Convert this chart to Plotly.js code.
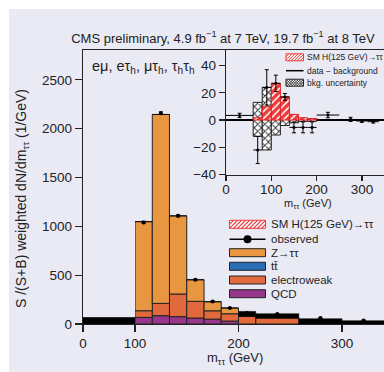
<!DOCTYPE html>
<html><head><meta charset="utf-8">
<script src="https://cdn.plot.ly/plotly-3.0.1.min.js"></script>
<style>html,body{margin:0;padding:0;background:#fff}#chart{width:384px;height:372px}</style>
</head><body><div id="chart"></div>
<script>
// ---------- main plot: S/(S+B) weighted dN/dm (1/GeV) ----------
const lowMassEdges = [0, 100];
const lowMassBand = [64];
const massEdges = [100, 116.7, 133.3, 150, 166.7, 183.3, 200, 216.7, 258.3, 300, 341.7];
const qcd         = [68, 85, 75, 61, 50, 30, 0, 0, 0, 0];
const electroweak = [68, 126, 232, 171, 85, 75, 78, 62, 0, 0];
const ttbar       = [0, 0, 0, 0, 0, 0, 0, 0, 0, 0];
const ztautau     = [912, 1934, 800, 221, 93, 59, 0, 0, 0, 0];
const highMassBand = [0, 0, 0, 0, 0, 0, 51, 43, 54, 34];
const observed    = [1040, 2158, 1107, 453, 231, 164, 112, 102, 61, 37];
const observedErr = [12, 14, 10, 8, 6, 5, 5, 5, 4, 4];
const mainTicks = [0, 100, 200, 300];

// ---------- inset: data - background ----------
const insetEdges = [60, 80, 100, 120, 140, 160, 180, 200];
const signal     = [1.7, 9.8, 27, 17, 4.2, 1.7, 1];
const bkgUncUp   = [13, 24, 11, 4, 2, 1, 1];
const bkgUncDown = [-12, -22, -11, -4, -2, -1, -1];
const dmbX    = [30, 70, 90, 110, 130, 150, 170, 190, 225, 275, 300, 325];
const dmbXErr = [30, 10, 10, 10, 10, 10, 10, 10, 25, 0, 12.5, 12.5];
const dmbY    = [3.4, -22, 24, 27, 17, -5.4, -5.4, -5.4, 3.7, 0.5, -0.7, -1.2];
const dmbYErr = [1.6, 10, 13, 6, 2.5, 4, 4, 4, 2, 1.5, 1, 1];

const mainLegendLabels = ['SM H(125 GeV)→ττ', 'observed', 'Z→ττ', 'tt̄', 'electroweak', 'QCD'];
const insetLegendLabels = ['SM H(125 GeV)→ττ', 'data − background', 'bkg. uncertainty'];

// ---------- styles ----------
const FONT = '"Liberation Sans", Arial, sans-serif';
const INK = '#222';
const BG = '#eaeaf5';
const C_QCD = '#98368c', C_EW = '#e2693b', C_TT = '#2a6fb5', C_ZTT = '#e8963f', C_SIG = '#ee3a3a';

const centers = e => e.slice(0, -1).map((v, i) => (v + e[i + 1]) / 2);
const widths  = e => e.slice(0, -1).map((v, i) => e[i + 1] - v);
const addArr  = (a, b) => a.map((v, i) => v + b[i]);

const mc = centers(massEdges), mw = widths(massEdges);
const base0 = qcd.map(() => 0);
const baseEW = qcd.slice();
const baseTT = addArr(baseEW, electroweak);
const baseZ = addArr(baseTT, ttbar);
const baseHM = addArr(baseZ, ztautau);

const outline = {color: INK, width: 1};
const traces = [
  {type: 'bar', name: 'low mass', x: centers(lowMassEdges), width: widths(lowMassEdges), y: lowMassBand,
   xaxis: 'x', yaxis: 'y', marker: {color: '#000', line: {color: '#000', width: 1}}, showlegend: false},
  {type: 'bar', name: 'QCD', x: mc, width: mw, y: qcd, base: base0, xaxis: 'x2', yaxis: 'y',
   marker: {color: C_QCD, line: outline}, showlegend: false},
  {type: 'bar', name: 'electroweak', x: mc, width: mw, y: electroweak, base: baseEW, xaxis: 'x2', yaxis: 'y',
   marker: {color: C_EW, line: outline}, showlegend: false},
  {type: 'bar', name: 'tt̄', x: mc, width: mw, y: ttbar, base: baseTT, xaxis: 'x2', yaxis: 'y',
   marker: {color: C_TT, line: {width: 0}}, showlegend: false},
  {type: 'bar', name: 'Z→ττ', x: mc, width: mw, y: ztautau, base: baseZ, xaxis: 'x2', yaxis: 'y',
   marker: {color: C_ZTT, line: outline}, showlegend: false},
  {type: 'bar', name: 'high mass', x: mc, width: mw, y: highMassBand, base: baseHM, xaxis: 'x2', yaxis: 'y',
   marker: {color: '#000', line: {color: '#000', width: 0.5}}, showlegend: false},
  {type: 'scatter', mode: 'markers', name: 'observed', x: mc, y: observed, xaxis: 'x2', yaxis: 'y',
   error_y: {type: 'data', array: observedErr, color: '#000', thickness: 1, width: 2},
   marker: {color: '#000', size: 4}, showlegend: false},
  // inset
  {type: 'bar', name: 'bkg. uncertainty', x: centers(insetEdges), width: widths(insetEdges),
   y: bkgUncUp.map((v, i) => v - bkgUncDown[i]), base: bkgUncDown, xaxis: 'x3', yaxis: 'y3',
   marker: {color: '#ffffff', line: {color: INK, width: 1},
            pattern: {shape: 'x', fgcolor: '#333', bgcolor: '#ffffff', size: 5, solidity: 0.35}}, showlegend: false},
  {type: 'bar', name: 'SM H(125 GeV)→ττ', x: centers(insetEdges), width: widths(insetEdges), y: signal, base: signal.map(() => 0),
   xaxis: 'x3', yaxis: 'y3',
   marker: {color: C_SIG, line: {color: '#e0201f', width: 1},
            pattern: {shape: '/', fgcolor: '#ffffff', bgcolor: C_SIG, size: 5, solidity: 0.3}}, showlegend: false},
  {type: 'scatter', mode: 'markers', name: 'data − background', x: dmbX, y: dmbY, xaxis: 'x3', yaxis: 'y3',
   error_x: {type: 'data', array: dmbXErr, color: '#000', thickness: 1, width: 0},
   error_y: {type: 'data', array: dmbYErr, color: '#000', thickness: 1, width: 2},
   marker: {color: '#000', size: 3}, showlegend: false}
];

// ---------- layout helpers (pixel -> paper) ----------
const L = 83, R = 384, T = 50, B = 324;
const px = x => (x - L) / (R - L);
const py = y => (B - y) / (B - T);
const splitX = px(135);

const shapes = [
  {type: 'rect', xref: 'paper', yref: 'paper', x0: px(9), x1: px(390), y0: py(380), y1: py(9),
   fillcolor: BG, line: {width: 0}, layer: 'below'}
];
const annotations = [];

function hatch(x0, y0, x1, y1, step, dir) {
  let d = '';
  const h = y1 - y0;
  for (let s = x0 - h; s < x1; s += step) {
    let ax = s, ay = y1, bx = s + h, by = y0;
    if (ax < x0) { ay = y1 - (x0 - ax); ax = x0; }
    if (bx > x1) { by = y0 + (bx - x1); bx = x1; }
    if (bx <= ax) continue;
    if (dir < 0) { const t1 = x0 + x1 - ax, t2 = x0 + x1 - bx; ax = t1; bx = t2; }
    d += `M${px(ax)},${py(ay)}L${px(bx)},${py(by)}`;
  }
  return d;
}
function swatchRect(x0, x1, yc, hh, fill, lineColor) {
  shapes.push({type: 'rect', xref: 'paper', yref: 'paper', x0: px(x0), x1: px(x1), y0: py(yc + hh), y1: py(yc - hh),
               fillcolor: fill, line: {color: lineColor, width: 1}});
}
function label(x, y, text, size) {
  annotations.push({xref: 'paper', yref: 'paper', x: px(x), y: py(y), xanchor: 'left', yanchor: 'middle',
                    text: text, showarrow: false, font: {family: FONT, size: size, color: INK}});
}

// main legend
const mRows = [224.3, 239.3, 252.7, 266.3, 280, 293.7];
const mx0 = 229.5, mx1 = 265.5, mh = 4;
swatchRect(mx0, mx1, mRows[0], mh, '#ffffff', C_SIG);
shapes.push({type: 'path', xref: 'paper', yref: 'paper', path: hatch(mx0, mRows[0] - mh, mx1, mRows[0] + mh, 4, 1),
             line: {color: C_SIG, width: 1.2}});
shapes.push({type: 'line', xref: 'paper', yref: 'paper', x0: px(mx0), x1: px(mx1), y0: py(mRows[1]), y1: py(mRows[1]),
             line: {color: '#000', width: 1.5}});
shapes.push({type: 'circle', xref: 'paper', yref: 'paper', x0: px(247.5 - 4), x1: px(247.5 + 4),
             y0: py(mRows[1] + 4), y1: py(mRows[1] - 4), fillcolor: '#000', line: {color: '#000', width: 0}});
[C_ZTT, C_TT, C_EW, C_QCD].forEach((c, i) => swatchRect(mx0, mx1, mRows[i + 2], mh, c, INK));
mainLegendLabels.forEach((t, i) => label(269, mRows[i], t, 11.5));

// inset legend
const iRows = [57.3, 70.7, 82.7];
const ix0 = 286, ix1 = 303.5, ih = 3.5;
swatchRect(ix0, ix1, iRows[0], ih, '#ffffff', C_SIG);
shapes.push({type: 'path', xref: 'paper', yref: 'paper', path: hatch(ix0, iRows[0] - ih, ix1, iRows[0] + ih, 3, 1),
             line: {color: C_SIG, width: 1}});
shapes.push({type: 'line', xref: 'paper', yref: 'paper', x0: px(ix0), x1: px(ix1), y0: py(iRows[1]), y1: py(iRows[1]),
             line: {color: '#000', width: 1.5}});
swatchRect(ix0, ix1, iRows[2], ih, '#ffffff', INK);
shapes.push({type: 'path', xref: 'paper', yref: 'paper', path: hatch(ix0, iRows[2] - ih, ix1, iRows[2] + ih, 2.5, 1) + hatch(ix0, iRows[2] - ih, ix1, iRows[2] + ih, 2.5, -1),
             line: {color: '#333', width: 0.8}});
insetLegendLabels.forEach((t, i) => label(305, iRows[i], t, 8.5));

// texts
annotations.push({xref: 'paper', yref: 'paper', x: px(90), y: py(67), xanchor: 'left', yanchor: 'middle', showarrow: false,
  text: 'eμ, eτ<sub>h</sub>, μτ<sub>h</sub>, τ<sub>h</sub>τ<sub>h</sub>', font: {family: FONT, size: 14.5, color: INK}});
annotations.push({xref: 'paper', yref: 'paper', x: px(22), y: py(199), xanchor: 'center', yanchor: 'middle', showarrow: false,
  textangle: -90, text: 'S /(S+B) weighted dN/dm<sub>ττ</sub> (1/GeV)', font: {family: FONT, size: 14, color: INK}});
annotations.push({xref: 'paper', yref: 'paper', x: px(235), y: py(358), xanchor: 'center', yanchor: 'middle', showarrow: false,
  text: 'm<sub>ττ</sub> (GeV)', font: {family: FONT, size: 13, color: INK}});
annotations.push({xref: 'paper', yref: 'paper', x: px(308), y: py(204), xanchor: 'center', yanchor: 'middle', showarrow: false,
  text: 'm<sub>ττ</sub> (GeV)', font: {family: FONT, size: 11, color: INK}});

const tickFont = {family: FONT, size: 13.5, color: INK};
const axBase = {showgrid: false, zeroline: false, showline: true, linecolor: INK, linewidth: 1.2,
                ticks: 'outside', tickcolor: INK, tickwidth: 1.2, tickfont: tickFont, fixedrange: true};

const layout = {
  width: 384, height: 372,
  margin: {l: L, r: 0, t: T, b: 372 - B, pad: 0},
  paper_bgcolor: '#ffffff', plot_bgcolor: 'rgba(0,0,0,0)',
  barmode: 'overlay', bargap: 0,
  showlegend: false,
  title: {text: 'CMS preliminary, 4.9 fb<sup>−1</sup> at 7 TeV, 19.7 fb<sup>−1</sup> at 8 TeV',
          font: {family: FONT, size: 13, color: INK}, xref: 'container', x: 223 / 384, xanchor: 'center',
          yref: 'container', y: 1 - 38 / 372, yanchor: 'middle'},
  xaxis: Object.assign({}, axBase, {domain: [0, splitX], range: [0, 100], anchor: 'y', mirror: true,
          tickvals: mainTicks.filter(v => v < 100), ticktext: mainTicks.filter(v => v < 100).map(String), ticklen: 7}),
  xaxis2: Object.assign({}, axBase, {domain: [splitX, 1], range: [99.999, 100 + (R - 135) / 1.035], anchor: 'y', mirror: true,
          tickvals: mainTicks.filter(v => v >= 100), ticktext: mainTicks.filter(v => v >= 100).map(String), ticklen: 7}),
  yaxis: Object.assign({}, axBase, {domain: [0, 1], range: [0, 2805], anchor: 'x', dtick: 500, tick0: 0, ticklen: 7}),
  xaxis3: Object.assign({}, axBase, {domain: [px(226), 1], range: [0, (R - 226) / 0.453], anchor: 'y3',
          dtick: 100, tick0: 0, ticklen: 5, ticklabelstandoff: -3}),
  yaxis3: Object.assign({}, axBase, {domain: [py(175), 1], range: [-40.4, 51.5], anchor: 'x3',
          dtick: 20, tick0: 0, ticklen: 6, zeroline: true, zerolinecolor: '#000', zerolinewidth: 1.6}),
  shapes: shapes,
  annotations: annotations
};

Plotly.newPlot('chart', traces, layout, {staticPlot: true, displayModeBar: false});
</script>
</body></html>
